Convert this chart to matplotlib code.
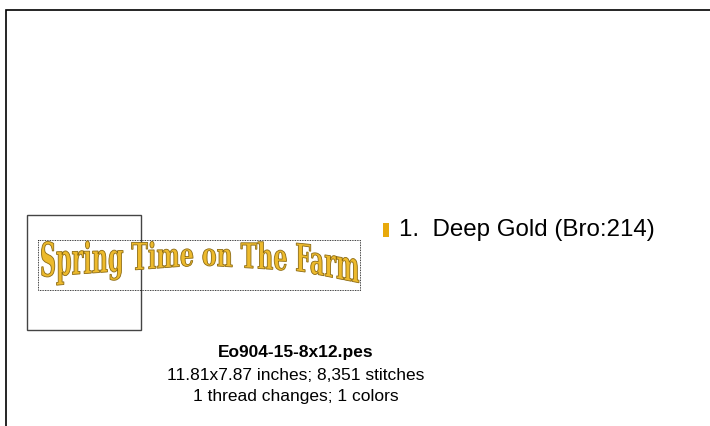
import numpy as np
import matplotlib
matplotlib.use('Agg')
import matplotlib.pyplot as plt
from matplotlib.textpath import TextPath
from matplotlib.font_manager import FontProperties
from matplotlib.patches import PathPatch, Rectangle
from matplotlib.path import Path

# ---- data ----
design_file = "Eo904-15-8x12.pes"
design_text = "Spring Time on The Farm"
width_in = 11.81
height_in = 7.87
stitch_count = 8351
thread_changes = 1
thread_names = ["Deep Gold (Bro:214)"]
thread_colors = ["#E8A90C"]

W, H = 710, 426
fig = plt.figure(figsize=(7.1, 4.26), dpi=100)
ax = fig.add_axes([0, 0, 1, 1])
ax.set_xlim(0, W)
ax.set_ylim(H, 0)
ax.axis('off')

# outer frame (top and left edges)
ax.plot([6, 6, W], [H, 10, 10], color='black', lw=1.2, solid_joinstyle='miter')

# hoop
ax.add_patch(Rectangle((27, 215), 114, 115, fill=False, ec='#444444', lw=1.0))
# design bounding box
ax.add_patch(Rectangle((38, 240), 322, 50, fill=False, ec='black', lw=0.6,
                       ls=(0, (1, 1))))

# arched embroidery text (envelope warp)
fp = FontProperties(family='DejaVu Serif', weight='bold')
tp = TextPath((0, 0), design_text, size=1, prop=fp)
cap = TextPath((0, 0), "T", size=1, prop=fp).get_extents().y1
verts = tp.vertices.copy()
x0, x1 = verts[:, 0].min(), verts[:, 0].max()
left, right = 40, 359
u = (verts[:, 0] - x0) / (x1 - x0)
X = left + u * (right - left)
top = np.interp(X, [38, 300, 360], [242, 243, 251])
base = np.interp(X, [38, 120, 200, 300, 360], [277, 271, 265, 271, 283])
Y = top + (cap - verts[:, 1]) / cap * (base - top)
path = Path(np.column_stack([X, Y]), tp.codes)
ax.add_patch(PathPatch(path, fc='#EDBA2C', ec='#8C6A12', lw=0.6))

# legend
for i, (name, col) in enumerate(zip(thread_names, thread_colors)):
    y = 230 + i * 24
    ax.add_patch(Rectangle((383, y - 7), 6, 14, fc=col, ec='none'))
    ax.text(399, y, f"{i+1}.  {name}", fontsize=17.4, family='Liberation Sans',
            va='center', ha='left', color='black')

# info text
cx = 296
fs = 12.5
ax.text(cx, 353, design_file, fontsize=fs, family='Liberation Sans',
        fontweight='bold', ha='center', va='center')
ax.text(cx, 375, f"{width_in:.2f}x{height_in:.2f} inches; {stitch_count:,} stitches",
        fontsize=fs, family='Liberation Sans', ha='center', va='center')
ax.text(cx, 397, f"{thread_changes} thread changes; {len(thread_names)} colors",
        fontsize=fs, family='Liberation Sans', ha='center', va='center')

fig.savefig('out.png', dpi=100)
